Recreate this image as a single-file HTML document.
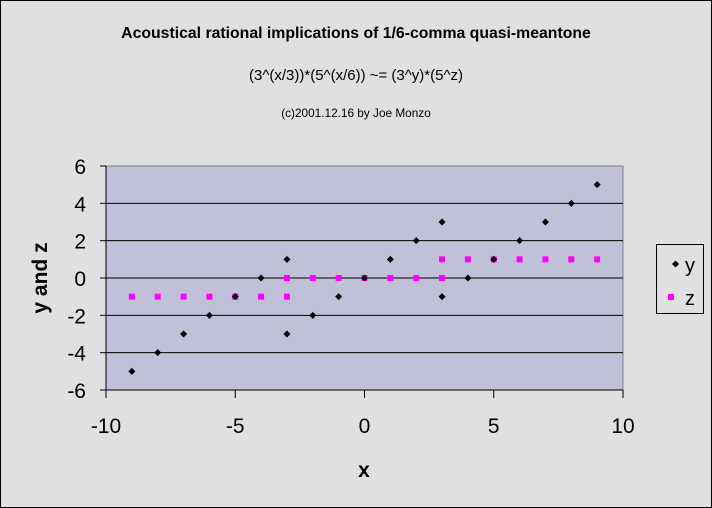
<!DOCTYPE html>
<html><head><meta charset="utf-8"><style>
body{margin:0;background:#e0e0e0;}
svg{display:block;font-family:"Liberation Sans",Arial,sans-serif;}
</style></head><body>
<svg width="712" height="508" xmlns="http://www.w3.org/2000/svg">
<rect x="0.5" y="0.5" width="711" height="507" fill="#e0e0e0" stroke="#000"/>
<text x="356" y="38" text-anchor="middle" font-size="15.8" font-weight="bold">Acoustical rational implications of 1/6-comma quasi-meantone</text>
<text x="356" y="80" text-anchor="middle" font-size="15">(3^(x/3))*(5^(x/6)) ~= (3^y)*(5^z)</text>
<text x="356" y="117" text-anchor="middle" font-size="11.8">(c)2001.12.16 by Joe Monzo</text>
<rect x="106" y="166" width="517" height="224" fill="#c0c0d8" stroke="#808080"/>
<g id="grid"></g><g id="axes"></g><g id="marks"></g>
<text x="364" y="477" text-anchor="middle" font-size="21" font-weight="bold">x</text>
<text transform="translate(47,278) rotate(-90)" text-anchor="middle" font-size="21" font-weight="bold">y and z</text>
<g>
<rect x="656.5" y="244.5" width="47" height="69" fill="#e0e0e0" stroke="#000"/>
<path d="M672 264 l3.5 -3.5 l3.5 3.5 l-3.5 3.5z" fill="#000"/>
<text x="685" y="272" font-size="20">y</text>
<rect x="668" y="294" width="6" height="6" fill="#ff00ff"/>
<text x="685" y="305" font-size="20">z</text>
</g>
</svg>
<script>
const xTicks=[-10,-5,0,5,10];
const yTicks=[-6,-4,-2,0,2,4,6];
const yX=[-9,-8,-7,-6,-5,-4,-3,-3,-2,-1,0,1,2,3,3,4,5,6,7,8,9];
const yV=[-5,-4,-3,-2,-1,0,1,-3,-2,-1,0,1,2,3,-1,0,1,2,3,4,5];
const zX=[-9,-8,-7,-6,-5,-4,-3,-3,-2,-1,0,1,2,3,3,4,5,6,7,8,9];
const zV=[-1,-1,-1,-1,-1,-1,-1,0,0,0,0,0,0,0,1,1,1,1,1,1,1];
const X=v=>106+(v+10)*517/20, Y=v=>390-(v+6)*224/12;
const NS="http://www.w3.org/2000/svg";
function mk(t,a,p){const e=document.createElementNS(NS,t);for(const k in a)e.setAttribute(k,a[k]);document.getElementById(p).appendChild(e);return e;}
yTicks.forEach(v=>{
 if(v>-6&&v<6){const g=mk('line',{x1:106,x2:623,y1:Y(v),y2:Y(v),stroke:'#000'},'grid');
 
 }
 const t=mk('line',{x1:100,x2:106,y1:Y(v),y2:Y(v),stroke:'#000'},'axes');
 
 
 const l=mk('text',{x:86,y:Y(v)+8,'text-anchor':'end','font-size':21},'axes');l.textContent=v;
 
 
});
xTicks.forEach(v=>{
 const t=mk('line',{x1:X(v),x2:X(v),y1:390,y2:398,stroke:'#000'},'axes');
 
 
 const l=mk('text',{x:X(v),y:433,'text-anchor':'middle','font-size':21},'axes');l.textContent=v;
 
 
});
const ax=mk('line',{x1:106,x2:106,y1:166,y2:390,stroke:'#000'},'axes');


const bx=mk('line',{x1:106,x2:623,y1:390,y2:390,stroke:'#000'},'axes');


zX.forEach((x,i)=>{
 const r=mk('rect',{x:X(x)-3,y:Y(zV[i])-3,width:6,height:6,fill:'#ff00ff'},'marks');
 
 
});
yX.forEach((x,i)=>{
 const cx=X(x),cy=Y(yV[i]);
 const p=mk('path',{d:`M${cx-3.5} ${cy} L${cx} ${cy-3.5} L${cx+3.5} ${cy} L${cx} ${cy+3.5}Z`,fill:'#000'},'marks');
 
 
});
</script>
</body></html>
